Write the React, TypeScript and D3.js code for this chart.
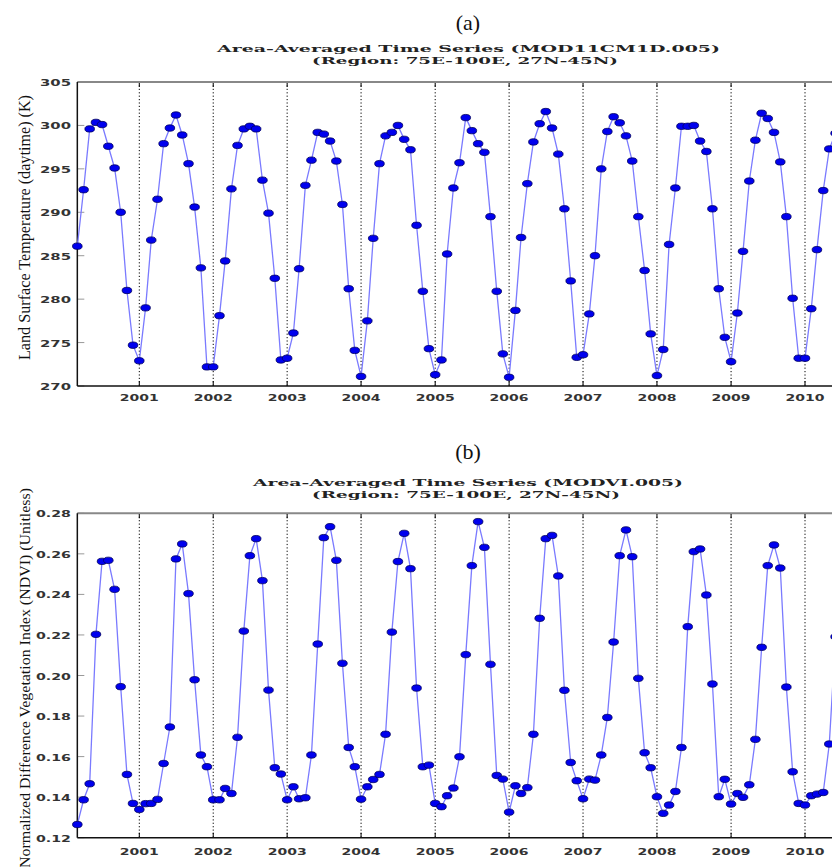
import React from "react";
import * as d3 from "d3";

// ---------- DATA ----------
const START_YEAR = 2000;
const START_MONTH = 2; // March 2000 (0-based month)

const yearTicks = [2001, 2002, 2003, 2004, 2005, 2006, 2007, 2008, 2009, 2010];

const lstValues = [
  // 2000 (Mar-Dec)
  286.1, 292.6, 299.6, 300.35, 300.1, 297.6, 295.1, 290.0, 281.0, 274.7,
  // 2001
  272.9, 279.0, 286.8, 291.5, 297.9, 299.7, 301.2, 298.9, 295.6, 290.6, 283.6, 272.2,
  // 2002
  272.2, 278.1, 284.4, 292.7, 297.7, 299.6, 299.9, 299.6, 293.7, 289.9, 282.4, 273.0,
  // 2003
  273.2, 276.1, 283.5, 293.1, 296.0, 299.2, 299.0, 298.2, 295.9, 290.9, 281.2, 274.1,
  // 2004
  271.1, 277.5, 287.0, 295.6, 298.8, 299.2, 300.0, 298.4, 297.2, 288.5, 280.9, 274.3,
  // 2005
  271.3, 273.0, 285.2, 292.8, 295.7, 300.9, 299.4, 297.9, 296.9, 289.5, 280.9, 273.7,
  // 2006
  271.0, 278.7, 287.1, 293.3, 298.1, 300.2, 301.6, 299.7, 296.7, 290.4, 282.1, 273.3,
  // 2007
  273.6, 278.3, 285.0, 295.0, 299.3, 301.0, 300.3, 298.8, 295.9, 289.5, 283.3, 276.0,
  // 2008
  271.2, 274.2, 286.3, 292.8, 299.9, 299.9, 300.0, 298.2, 297.0, 290.4, 281.2, 275.6,
  // 2009
  272.8, 278.4, 285.5, 293.6, 298.3, 301.4, 300.8, 299.2, 295.8, 289.5, 280.1, 273.2,
  // 2010 (Jan-Jun)
  273.2, 278.9, 285.7, 292.5, 297.3, 299.1,
];

const ndviValues = [
  // 2000 (Mar-Dec)
  0.1265, 0.1387, 0.1466, 0.2203, 0.2563, 0.2568, 0.2425, 0.1945, 0.1512, 0.1369,
  // 2001
  0.1339, 0.1368, 0.1369, 0.1389, 0.1566, 0.1746, 0.2575, 0.2649, 0.2404, 0.1979, 0.1608, 0.155,
  // 2002
  0.1387, 0.1387, 0.1443, 0.1418, 0.1695, 0.2219, 0.2591, 0.2675, 0.2468, 0.1928, 0.1545, 0.1514,
  // 2003
  0.1387, 0.1451, 0.1392, 0.1397, 0.1608, 0.2155, 0.268, 0.2734, 0.2568, 0.206, 0.1645, 0.155,
  // 2004
  0.139, 0.1451, 0.1487, 0.1512, 0.171, 0.2214, 0.2562, 0.2701, 0.2527, 0.1938, 0.155, 0.1558,
  // 2005
  0.1369, 0.1353, 0.1407, 0.1445, 0.1599, 0.2103, 0.2542, 0.2759, 0.2632, 0.2055, 0.1507, 0.1489,
  // 2006
  0.1326, 0.1456, 0.1418, 0.1447, 0.171, 0.2282, 0.2675, 0.2691, 0.2491, 0.1927, 0.1571, 0.1481,
  // 2007
  0.1392, 0.1489, 0.1484, 0.1608, 0.1793, 0.2165, 0.2591, 0.2718, 0.2586, 0.1986, 0.1619, 0.1545,
  // 2008
  0.1402, 0.132, 0.1361, 0.1428, 0.1645, 0.2241, 0.2611, 0.2624, 0.2397, 0.1958, 0.1402, 0.1488,
  // 2009
  0.1366, 0.1418, 0.1399, 0.1461, 0.1685, 0.2139, 0.2542, 0.2644, 0.253, 0.1943, 0.1525, 0.1369,
  // 2010 (Jan-Jun)
  0.1361, 0.1407, 0.1415, 0.1423, 0.1662, 0.2191,
];

const lstTicks = [270, 275, 280, 285, 290, 295, 300, 305];
const ndviTicks = [0.12, 0.14, 0.16, 0.18, 0.2, 0.22, 0.24, 0.26, 0.28];

const panelLabels = ["(a)", "(b)"];
const titleLines1 = [
  "Area-Averaged Time Series (MOD11CM1D.005)",
  "Area-Averaged Time Series (MODVI.005)",
];
const titleLines2 = ["(Region: 75E-100E, 27N-45N)", "(Region: 75E-100E, 27N-45N)"];
const yTitles = [
  "Land Surface Temperature (daytime) (K)",
  "Normalized Difference Vegetation Index (NDVI) (Unitless)",
];

// ---------- LAYOUT ----------
const W = 832;
const H = 867;

const x = d3
  .scaleTime()
  .domain([new Date(2001, 0, 1), new Date(2010, 0, 1)])
  .range([139.3, 805]);

const startDate = new Date(START_YEAR, START_MONTH, 1);
const X0 = x(startDate);
const X1 = x(new Date(2011, 0, 1));

type PanelCfg = {
  values: number[];
  ticks: number[];
  domain: [number, number];
  top: number;
  bottom: number;
  fmt: (v: number) => string;
  tickLabelLen: number;
  label: string;
  labelY: number;
  t1: string;
  t1x: number;
  t1len: number;
  t1y: number;
  t2: string;
  t2x: number;
  t2len: number;
  t2y: number;
  yTitle: string;
  yTitleStart: number;
  yTitleLen: number;
  yTitleSize: number;
  xLabelY: number;
};

const panels: PanelCfg[] = [
  {
    values: lstValues,
    ticks: lstTicks,
    domain: [270, 305],
    top: 82,
    bottom: 386,
    fmt: (v) => d3.format("d")(v),
    tickLabelLen: 31,
    label: panelLabels[0],
    labelY: 30,
    t1: titleLines1[0],
    t1x: 217,
    t1len: 503,
    t1y: 52,
    t2: titleLines2[0],
    t2x: 312,
    t2len: 306,
    t2y: 64,
    yTitle: yTitles[0],
    yTitleStart: 360,
    yTitleLen: 265,
    yTitleSize: 16,
    xLabelY: 401,
  },
  {
    values: ndviValues,
    ticks: ndviTicks,
    domain: [0.12, 0.28],
    top: 513.3,
    bottom: 837.7,
    fmt: (v) => d3.format(".2f")(v),
    tickLabelLen: 35,
    label: panelLabels[1],
    labelY: 459,
    t1: titleLines1[1],
    t1x: 253,
    t1len: 430,
    t1y: 486,
    t2: titleLines2[1],
    t2x: 312,
    t2len: 308,
    t2y: 498,
    yTitle: yTitles[1],
    yTitleStart: 868,
    yTitleLen: 380,
    yTitleSize: 15,
    xLabelY: 855,
  },
];

const TICK_FONT = "'DejaVu Sans', sans-serif";
const TITLE_FONT = "'DejaVu Serif', serif";
const LABEL_FONT = "'Liberation Serif', 'Times New Roman', serif";

function Panel({ cfg, idx }: { cfg: PanelCfg; idx: number }) {
  const y = d3.scaleLinear().domain(cfg.domain).range([cfg.bottom, cfg.top]);
  const pts = cfg.values.map((v, i) => ({
    d: d3.timeMonth.offset(startDate, i),
    v,
  }));
  const line = d3
    .line<{ d: Date; v: number }>()
    .x((p) => x(p.d))
    .y((p) => y(p.v));
  const clipId = `clip-${idx}`;
  return (
    <g>
      <defs>
        <clipPath id={clipId}>
          <rect x={X0 - 8} y={cfg.top - 8} width={X1 - X0 + 16} height={cfg.bottom - cfg.top + 16} />
        </clipPath>
      </defs>
      {/* panel label */}
      <text
        x={468}
        y={cfg.labelY}
        textAnchor="middle"
        fontFamily={LABEL_FONT}
        fontSize={22}
        fill="#111"
      >
        {cfg.label}
      </text>
      {/* titles */}
      <text
        x={cfg.t1x}
        y={cfg.t1y}
        fontFamily={TITLE_FONT}
        fontWeight="bold"
        fontSize={10}
        fill="#222"
        textLength={cfg.t1len}
        lengthAdjust="spacingAndGlyphs"
      >
        {cfg.t1}
      </text>
      <text
        x={cfg.t2x}
        y={cfg.t2y}
        fontFamily={TITLE_FONT}
        fontWeight="bold"
        fontSize={10}
        fill="#222"
        textLength={cfg.t2len}
        lengthAdjust="spacingAndGlyphs"
      >
        {cfg.t2}
      </text>
      {/* y title */}
      <text
        transform={`translate(30,${cfg.yTitleStart}) rotate(-90)`}
        fontFamily={LABEL_FONT}
        fontSize={cfg.yTitleSize}
        fill="#111"
        textLength={cfg.yTitleLen}
        lengthAdjust="spacingAndGlyphs"
      >
        {cfg.yTitle}
      </text>
      {/* year gridlines */}
      {yearTicks.map((yr) => {
        const xx = x(new Date(yr, 0, 1));
        return (
          <g key={yr}>
            <line
              x1={xx}
              x2={xx}
              y1={cfg.top}
              y2={cfg.bottom}
              stroke="#000"
              strokeWidth={1}
              strokeDasharray="1.2,2.2"
            />
            <line x1={xx} x2={xx} y1={cfg.bottom} y2={cfg.bottom - 5} stroke="#000" strokeWidth={1} />
            <line x1={xx} x2={xx} y1={cfg.top} y2={cfg.top + 5} stroke="#000" strokeWidth={1} />
            <text
              x={xx - 19.5}
              y={cfg.xLabelY}
              fontFamily={TICK_FONT}
              fontWeight="bold"
              fontSize={9.5}
              fill="#333"
              textLength={39}
              lengthAdjust="spacingAndGlyphs"
            >
              {String(yr)}
            </text>
          </g>
        );
      })}
      {/* y ticks */}
      {cfg.ticks.map((t) => {
        const yy = y(t);
        return (
          <g key={t}>
            <line x1={X0} x2={X0 + 7} y1={yy} y2={yy} stroke="#999" strokeWidth={1} />
            <text
              x={71 - cfg.tickLabelLen}
              y={yy + 4}
              fontFamily={TICK_FONT}
              fontWeight="bold"
              fontSize={9.5}
              fill="#333"
              textLength={cfg.tickLabelLen}
              lengthAdjust="spacingAndGlyphs"
            >
              {cfg.fmt(t)}
            </text>
          </g>
        );
      })}
      {/* frame */}
      <line x1={X0} x2={X1} y1={cfg.top} y2={cfg.top} stroke="#888" strokeWidth={2} />
      <line x1={X0} x2={X1} y1={cfg.bottom} y2={cfg.bottom} stroke="#111" strokeWidth={1.5} />
      <line x1={X0} x2={X0} y1={cfg.top} y2={cfg.bottom} stroke="#111" strokeWidth={1.5} />
      {/* series */}
      <g clipPath={`url(#${clipId})`}>
        <path d={line(pts) || ""} fill="none" stroke="#7a7aff" strokeWidth={1.3} />
        {pts.map((p, i) => (
          <ellipse
            key={i}
            cx={x(p.d)}
            cy={y(p.v)}
            rx={4.8}
            ry={3.2}
            fill="#0000ee"
            stroke="#00005a"
            strokeWidth={0.8}
          />
        ))}
      </g>
    </g>
  );
}

export default function App() {
  return (
    <svg
      width={W}
      height={H}
      viewBox={`0 0 ${W} ${H}`}
      style={{ position: "absolute", left: 0, top: 0, display: "block", background: "#fff" }}
    >
      <rect x={0} y={0} width={W} height={H} fill="#fff" />
      {panels.map((p, i) => (
        <Panel key={i} cfg={p} idx={i} />
      ))}
    </svg>
  );
}
